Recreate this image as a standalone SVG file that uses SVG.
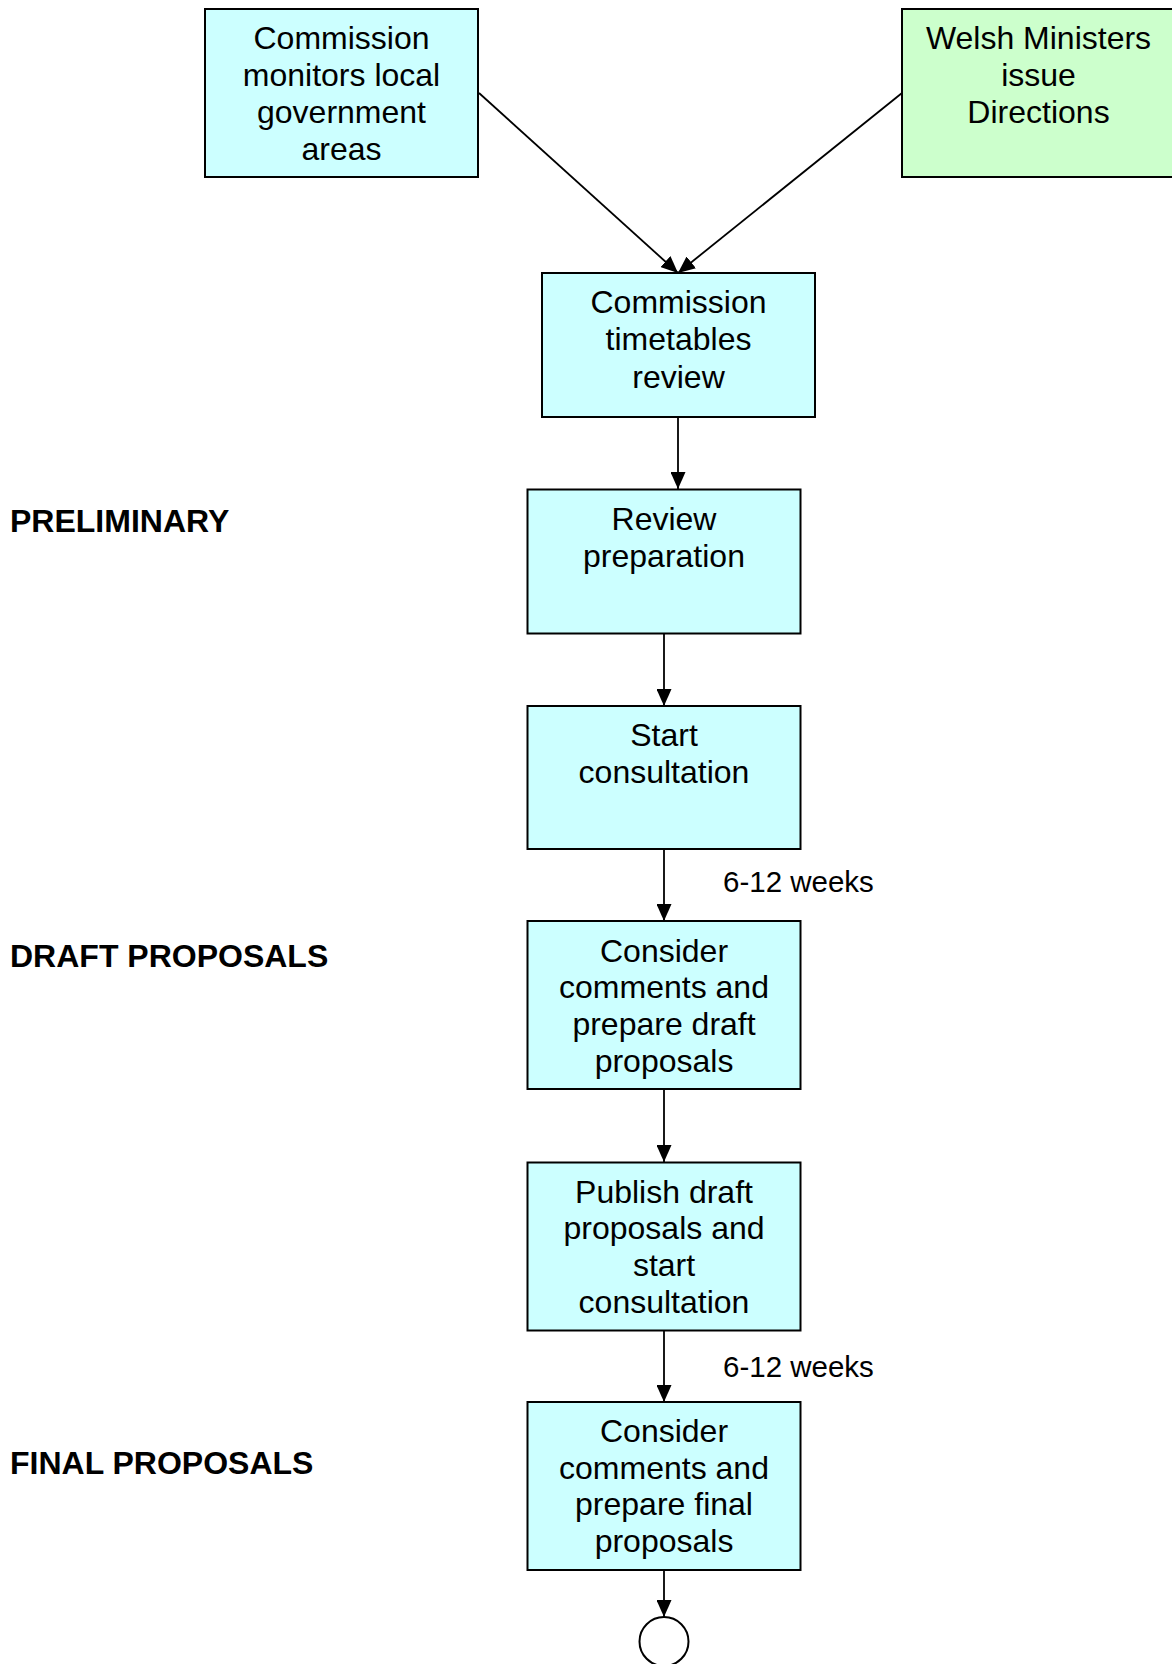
<svg xmlns="http://www.w3.org/2000/svg" width="1172" height="1664" viewBox="0 0 1172 1664">
<style>
.box{stroke:#000;stroke-width:2}
.cyan{fill:#CCFFFF}
.green{fill:#CCFFCC}
.t{font-family:"Liberation Sans",Arial,sans-serif;font-size:32px;fill:#000;text-anchor:middle}
.lbl{font-family:"Liberation Sans",Arial,sans-serif;font-size:32px;font-weight:bold;fill:#000}
.wk{font-family:"Liberation Sans",Arial,sans-serif;font-size:29.5px;fill:#000}
.c{stroke:#000;stroke-width:1.8;fill:none;marker-end:url(#ah)}
</style>
<defs>
<marker id="ah" markerUnits="userSpaceOnUse" markerWidth="17" markerHeight="15" refX="17" refY="7.5" orient="auto">
<path d="M0,0 L17,7.5 L0,15 Z" fill="#000"/>
</marker>
</defs>
<rect width="1172" height="1664" fill="#fff"/>
<g id="connectors">
<line class="c" x1="479" y1="93" x2="678" y2="273"/>
<line class="c" x1="902" y1="93" x2="678" y2="273"/>
<line class="c" x1="678" y1="417" x2="678" y2="489"/>
<line class="c" x1="664" y1="634" x2="664" y2="706"/>
<line class="c" x1="664" y1="849" x2="664" y2="921"/>
<line class="c" x1="664" y1="1089" x2="664" y2="1162"/>
<line class="c" x1="664" y1="1330" x2="664" y2="1402"/>
<line class="c" x1="664" y1="1570" x2="664" y2="1617"/>
</g>
<g id="n-monitor">
<rect class="box cyan" x="205" y="9" width="273" height="168"/>
<text class="t" x="341.5" y="49">Commission</text>
<text class="t" x="341.5" y="86">monitors local</text>
<text class="t" x="341.5" y="123">government</text>
<text class="t" x="341.5" y="160">areas</text>
</g>
<g id="n-welsh">
<rect class="box green" x="902" y="9" width="275" height="168"/>
<text class="t" x="1038.5" y="49">Welsh Ministers</text>
<text class="t" x="1038.5" y="86">issue</text>
<text class="t" x="1038.5" y="123">Directions</text>
</g>
<g id="n-timetable">
<rect class="box cyan" x="542" y="273" width="273" height="144"/>
<text class="t" x="678.5" y="313">Commission</text>
<text class="t" x="678.5" y="350">timetables</text>
<text class="t" x="678.5" y="388">review</text>
</g>
<g id="n-prep">
<rect class="box cyan" x="527.5" y="489.5" width="273" height="144"/>
<text class="t" x="664" y="530">Review</text>
<text class="t" x="664" y="567">preparation</text>
</g>
<g id="n-start">
<rect class="box cyan" x="527.5" y="706" width="273" height="143"/>
<text class="t" x="664" y="746">Start</text>
<text class="t" x="664" y="783">consultation</text>
</g>
<g id="n-draft">
<rect class="box cyan" x="527.5" y="921" width="273" height="168"/>
<text class="t" x="664" y="961.5">Consider</text>
<text class="t" x="664" y="998">comments and</text>
<text class="t" x="664" y="1035">prepare draft</text>
<text class="t" x="664" y="1071.5">proposals</text>
</g>
<g id="n-publish">
<rect class="box cyan" x="527.5" y="1162.5" width="273" height="168"/>
<text class="t" x="664" y="1202.5">Publish draft</text>
<text class="t" x="664" y="1239">proposals and</text>
<text class="t" x="664" y="1276">start</text>
<text class="t" x="664" y="1312.5">consultation</text>
</g>
<g id="n-final">
<rect class="box cyan" x="527.5" y="1402" width="273" height="168"/>
<text class="t" x="664" y="1442">Consider</text>
<text class="t" x="664" y="1478.5">comments and</text>
<text class="t" x="664" y="1515">prepare final</text>
<text class="t" x="664" y="1552">proposals</text>
</g>
<g id="n-end">
<circle cx="664" cy="1641.5" r="24.5" fill="#fff" stroke="#000" stroke-width="2"/>
</g>
<g id="labels">
<text class="lbl" x="10" y="531.5">PRELIMINARY</text>
<text class="lbl" x="10" y="967">DRAFT PROPOSALS</text>
<text class="lbl" x="10" y="1473.5">FINAL PROPOSALS</text>
<text class="wk" x="723" y="891.5">6-12 weeks</text>
<text class="wk" x="723" y="1377">6-12 weeks</text>
</g>
</svg>
